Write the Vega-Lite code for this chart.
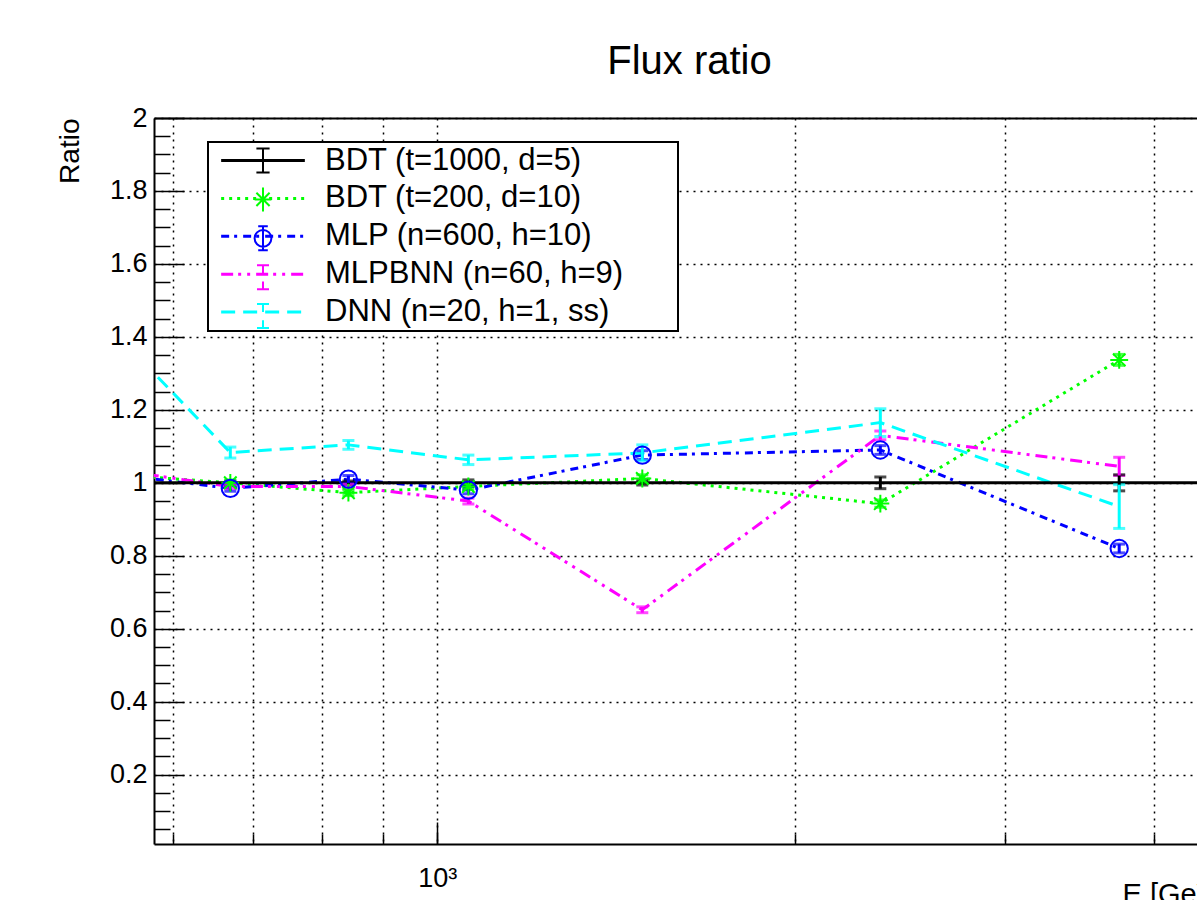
{
  "$schema": "https://vega.github.io/schema/vega-lite/v6.json",
  "autosize": {"type": "none"},
  "padding": {"left": 154, "top": 118, "right": 0, "bottom": 56},
  "width": 1043,
  "height": 726,
  "background": "white",
  "config": {"view": {"stroke": null}, "font": "Liberation Sans"},
  "title": {"text": "Flux ratio", "fontSize": 40, "font": "Liberation Sans", "fontWeight": "normal", "color": "black", "anchor": "middle", "dx": 14, "baseline": "alphabetic", "offset": -10, "frame": "group"},
  "data": {"values": [
    {"model": "BDT (t=1000, d=5)", "E": 533, "r": 1.0, "e": 0.005},
    {"model": "BDT (t=1000, d=5)", "E": 670, "r": 1.0, "e": 0.005},
    {"model": "BDT (t=1000, d=5)", "E": 842, "r": 1.0, "e": 0.005},
    {"model": "BDT (t=1000, d=5)", "E": 1062, "r": 1.0, "e": 0.008},
    {"model": "BDT (t=1000, d=5)", "E": 1487, "r": 1.0, "e": 0.006},
    {"model": "BDT (t=1000, d=5)", "E": 2357, "r": 1.0, "e": 0.016},
    {"model": "BDT (t=1000, d=5)", "E": 3742, "r": 1.0, "e": 0.022},
    {"model": "BDT (t=1000, d=5)", "E": 5930, "r": 1.0, "e": 0.03},
    {"model": "BDT (t=200, d=10)", "E": 533, "r": 1.023, "e": 0.01},
    {"model": "BDT (t=200, d=10)", "E": 670, "r": 1.0, "e": 0.008},
    {"model": "BDT (t=200, d=10)", "E": 842, "r": 0.973, "e": 0.008},
    {"model": "BDT (t=200, d=10)", "E": 1062, "r": 0.99, "e": 0.008},
    {"model": "BDT (t=200, d=10)", "E": 1487, "r": 1.012, "e": 0.01},
    {"model": "BDT (t=200, d=10)", "E": 2357, "r": 0.943, "e": 0.01},
    {"model": "BDT (t=200, d=10)", "E": 3742, "r": 1.337, "e": 0.015},
    {"model": "MLP (n=600, h=10)", "E": 533, "r": 1.024, "e": 0.01},
    {"model": "MLP (n=600, h=10)", "E": 670, "r": 0.985, "e": 0.008},
    {"model": "MLP (n=600, h=10)", "E": 842, "r": 1.01, "e": 0.01},
    {"model": "MLP (n=600, h=10)", "E": 1062, "r": 0.98, "e": 0.01},
    {"model": "MLP (n=600, h=10)", "E": 1487, "r": 1.076, "e": 0.012},
    {"model": "MLP (n=600, h=10)", "E": 2357, "r": 1.09, "e": 0.012},
    {"model": "MLP (n=600, h=10)", "E": 3742, "r": 0.82, "e": 0.012},
    {"model": "MLPBNN (n=60, h=9)", "E": 533, "r": 1.037, "e": 0.01},
    {"model": "MLPBNN (n=60, h=9)", "E": 670, "r": 0.99, "e": 0.006},
    {"model": "MLPBNN (n=60, h=9)", "E": 842, "r": 0.99, "e": 0.006},
    {"model": "MLPBNN (n=60, h=9)", "E": 1062, "r": 0.95, "e": 0.008},
    {"model": "MLPBNN (n=60, h=9)", "E": 1487, "r": 0.652, "e": 0.008},
    {"model": "MLPBNN (n=60, h=9)", "E": 2357, "r": 1.13, "e": 0.012},
    {"model": "MLPBNN (n=60, h=9)", "E": 3742, "r": 1.045, "e": 0.025},
    {"model": "DNN (n=20, h=1, ss)", "E": 533, "r": 1.42, "e": 0.02},
    {"model": "DNN (n=20, h=1, ss)", "E": 670, "r": 1.083, "e": 0.015},
    {"model": "DNN (n=20, h=1, ss)", "E": 842, "r": 1.104, "e": 0.012},
    {"model": "DNN (n=20, h=1, ss)", "E": 1062, "r": 1.063, "e": 0.013},
    {"model": "DNN (n=20, h=1, ss)", "E": 1487, "r": 1.082, "e": 0.022},
    {"model": "DNN (n=20, h=1, ss)", "E": 2357, "r": 1.165, "e": 0.038},
    {"model": "DNN (n=20, h=1, ss)", "E": 3742, "r": 0.935, "e": 0.06}
  ]},
  "layer": [
    {
      "transform": [{"filter": "datum.model != 'BDT (t=1000, d=5)'"}],
      "mark": {"type": "line", "strokeWidth": 3, "clip": true},
      "encoding": {
        "x": {"field": "E", "type": "quantitative",
          "scale": {"type": "log", "domain": [578, 4350], "nice": false},
          "axis": {"orient": "bottom", "values": [600, 700, 800, 900, 1000, 2000, 3000, 4000],
            "labelExpr": "datum.value == 1000 ? '10³' : ''", "labelOverlap": false, "labelFlush": false,
            "tickSize": -10, "tickWidth": 1.5, "tickColor": "black",
            "labelPadding": 52, "labelBaseline": "alphabetic", "labelFontSize": 27, "labelFont": "Liberation Sans", "labelColor": "black",
            "grid": true, "gridDash": [2, 5], "gridColor": "black", "gridWidth": 1.5, "gridOpacity": 1,
            "domainColor": "black", "domainWidth": 2,
            "title": "E [GeV]", "titleFont": "Liberation Sans", "titleFontSize": 29, "titleFontWeight": "normal", "titleColor": "black",
            "titleX": 968, "titleY": 59, "titleAlign": "left", "titleBaseline": "alphabetic", "titleAnchor": null}},
        "y": {"field": "r", "type": "quantitative",
          "scale": {"domain": [0.01, 2], "nice": false, "zero": false},
          "axis": {"orient": "left", "values": [0.2, 0.4, 0.6, 0.8, 1, 1.2, 1.4, 1.6, 1.8, 2], "format": "~g",
            "tickSize": -30, "tickWidth": 1.5, "tickColor": "black",
            "labelPadding": 37, "labelFontSize": 27, "labelFont": "Liberation Sans", "labelColor": "black", "labelOverlap": false, "labelFlush": false,
            "grid": true, "gridDash": [2, 5], "gridColor": "black", "gridWidth": 1.5, "gridOpacity": 1,
            "domainColor": "black", "domainWidth": 2,
            "title": "Ratio", "titleFont": "Liberation Sans", "titleFontSize": 28, "titleFontWeight": "normal", "titleColor": "black",
            "titleAngle": -90, "titleAlign": "right", "titleBaseline": "alphabetic", "titleX": -76, "titleY": 0}},
        "color": {"field": "model", "type": "nominal",
          "scale": {"domain": ["BDT (t=1000, d=5)", "BDT (t=200, d=10)", "MLP (n=600, h=10)", "MLPBNN (n=60, h=9)", "DNN (n=20, h=1, ss)"],
                    "range": ["#000000", "#00ff00", "#0000ff", "#ff00ff", "#00ffff"]},
          "legend": {"orient": "none", "legendX": 54, "legendY": 24, "title": null,
            "symbolType": "M-3.1,0H3.1", "symbolSize": 729, "symbolStrokeWidth": 3, "symbolOffset": 36.5,
            "labelFontSize": 31, "labelFont": "Liberation Sans", "labelColor": "black", "labelLimit": 1000, "labelOffset": 46.5,
            "labelExpr": "datum.label + '\u00a0\u00a0\u00a0\u00a0\u00a0\u00a0\u200b'",
            "padding": 3, "rowPadding": 5.9, "strokeColor": "black", "fillColor": "white",
            "encode": {"legend": {"update": {"strokeWidth": {"value": 2}}}}}},
        "strokeDash": {"field": "model", "type": "nominal",
          "scale": {"domain": ["BDT (t=1000, d=5)", "BDT (t=200, d=10)", "MLP (n=600, h=10)", "MLPBNN (n=60, h=9)", "DNN (n=20, h=1, ss)"],
                    "range": [[1, 0], [3, 5], [8, 5, 3, 6], [12, 5, 3, 6, 3, 6], [14, 8]]}}
      }
    },
    {
      "transform": [{"filter": "datum.model == 'BDT (t=1000, d=5)'"}],
      "mark": {"type": "line", "strokeWidth": 3, "clip": true, "color": "black"},
      "encoding": {
        "x": {"field": "E", "type": "quantitative",
          "scale": {"type": "log", "domain": [578, 4350], "nice": false},
          "axis": {"orient": "top", "ticks": false, "labels": false, "grid": false, "domain": true, "domainColor": "black", "domainWidth": 2, "title": null}},
        "y": {"field": "r", "type": "quantitative",
          "scale": {"domain": [0.01, 2], "nice": false, "zero": false},
          "axis": {"orient": "left", "values": [0.05, 0.1, 0.15, 0.25, 0.3, 0.35, 0.45, 0.5, 0.55, 0.65, 0.7, 0.75, 0.85, 0.9, 0.95, 1.05, 1.1, 1.15, 1.25, 1.3, 1.35, 1.45, 1.5, 1.55, 1.65, 1.7, 1.75, 1.85, 1.9, 1.95],
            "tickSize": -16, "tickWidth": 1.5, "tickColor": "black", "labels": false, "grid": false, "domain": false, "title": null}}
      }
    },
    {
      "transform": [{"filter": "datum.E > 578 && datum.E < 4350"}],
      "mark": {"type": "errorbar", "ticks": true, "size": 12, "thickness": 3},
      "encoding": {
        "x": {"field": "E", "type": "quantitative", "scale": {"type": "log", "domain": [578, 4350], "nice": false}, "axis": null},
        "y": {"field": "r", "type": "quantitative", "scale": {"domain": [0.01, 2], "nice": false, "zero": false}, "axis": null},
        "yError": {"field": "e"},
        "color": {"field": "model", "type": "nominal",
          "scale": {"domain": ["BDT (t=1000, d=5)", "BDT (t=200, d=10)", "MLP (n=600, h=10)", "MLPBNN (n=60, h=9)", "DNN (n=20, h=1, ss)"],
                    "range": ["#000000", "#00ff00", "#0000ff", "#ff00ff", "#00ffff"]},
          "legend": null}
      }
    },
    {
      "transform": [{"filter": "datum.model == 'BDT (t=200, d=10)' && datum.E > 578"}],
      "mark": {"type": "point", "shape": "M-1,0H1M0,-1V1M-0.7,-0.7L0.7,0.7M-0.7,0.7L0.7,-0.7", "size": 320, "strokeWidth": 2, "filled": false, "color": "#00ff00", "opacity": 1},
      "encoding": {
        "x": {"field": "E", "type": "quantitative", "scale": {"type": "log", "domain": [578, 4350], "nice": false},
          "axis": {"orient": "bottom", "values": [1000], "tickSize": -22, "tickWidth": 1.5, "tickColor": "black", "labels": false, "grid": false, "domain": false, "title": null}},
        "y": {"field": "r", "type": "quantitative", "scale": {"domain": [0.01, 2], "nice": false, "zero": false}, "axis": null}
      }
    },
    {
      "transform": [{"filter": "datum.model == 'MLP (n=600, h=10)' && datum.E > 578"}],
      "mark": {"type": "point", "shape": "circle", "size": 300, "strokeWidth": 2, "filled": false, "color": "#0000ff", "opacity": 1},
      "encoding": {
        "x": {"field": "E", "type": "quantitative", "scale": {"type": "log", "domain": [578, 4350], "nice": false}, "axis": null},
        "y": {"field": "r", "type": "quantitative", "scale": {"domain": [0.01, 2], "nice": false, "zero": false}, "axis": null}
      }
    },
    {
      "transform": [{"filter": "false"}],
      "mark": {"type": "point", "filled": false, "opacity": 1},
      "encoding": {
        "x": {"field": "E", "type": "quantitative", "scale": {"type": "log", "domain": [578, 4350], "nice": false}, "axis": null},
        "y": {"field": "r", "type": "quantitative", "scale": {"domain": [0.01, 2], "nice": false, "zero": false}, "axis": null},
        "stroke": {"field": "model", "type": "nominal",
          "scale": {"domain": ["DNN (n=20, h=1, ss)", "MLPBNN (n=60, h=9)", "MLP (n=600, h=10)", "BDT (t=200, d=10)", "BDT (t=1000, d=5)"],
                    "range": ["#00ffff", "#ff00ff", "#0000ff", "#00ff00", "#000000"]}},
        "shape": {"field": "model", "type": "nominal",
          "scale": {"domain": ["DNN (n=20, h=1, ss)", "MLPBNN (n=60, h=9)", "MLP (n=600, h=10)", "BDT (t=200, d=10)", "BDT (t=1000, d=5)"],
                    "range": ["M0,-1V-0.35M0,0.35V1M-0.5,-1H0.5M-0.5,1H0.5",
                              "M0,-1V-0.35M0,0.35V1M-0.5,-1H0.5M-0.5,1H0.5",
                              "M0,-1V1M-0.4,-1H0.4M-0.4,1H0.4M0.7,0A0.7,0.7 0 1,1 -0.7,0A0.7,0.7 0 1,1 0.7,0",
                              "M-0.7,0H0.7M0,-1V1M-0.55,-0.55L0.55,0.55M-0.55,0.55L0.55,-0.55",
                              "M0,-1V1M-0.55,-1H0.55M-0.55,1H0.55"]},
          "legend": {"orient": "none", "legendX": 54, "legendY": 24, "title": null,
            "values": ["BDT (t=1000, d=5)", "BDT (t=200, d=10)", "MLP (n=600, h=10)", "MLPBNN (n=60, h=9)", "DNN (n=20, h=1, ss)"],
            "symbolSize": 576, "symbolStrokeWidth": 2, "symbolFillColor": "transparent", "symbolOffset": 36.5, "symbolOpacity": 1,
            "labelFontSize": 31, "labelFont": "Liberation Sans", "labelOpacity": 0, "labelLimit": 1000, "labelOffset": 46.5,
            "labelExpr": "datum.label + '\u00a0\u00a0\u00a0\u00a0\u00a0\u00a0\u200b'",
            "padding": 3, "rowPadding": 5.9}}
      }
    }
  ],
  "resolve": {"axis": {"x": "independent", "y": "independent"}}
}
